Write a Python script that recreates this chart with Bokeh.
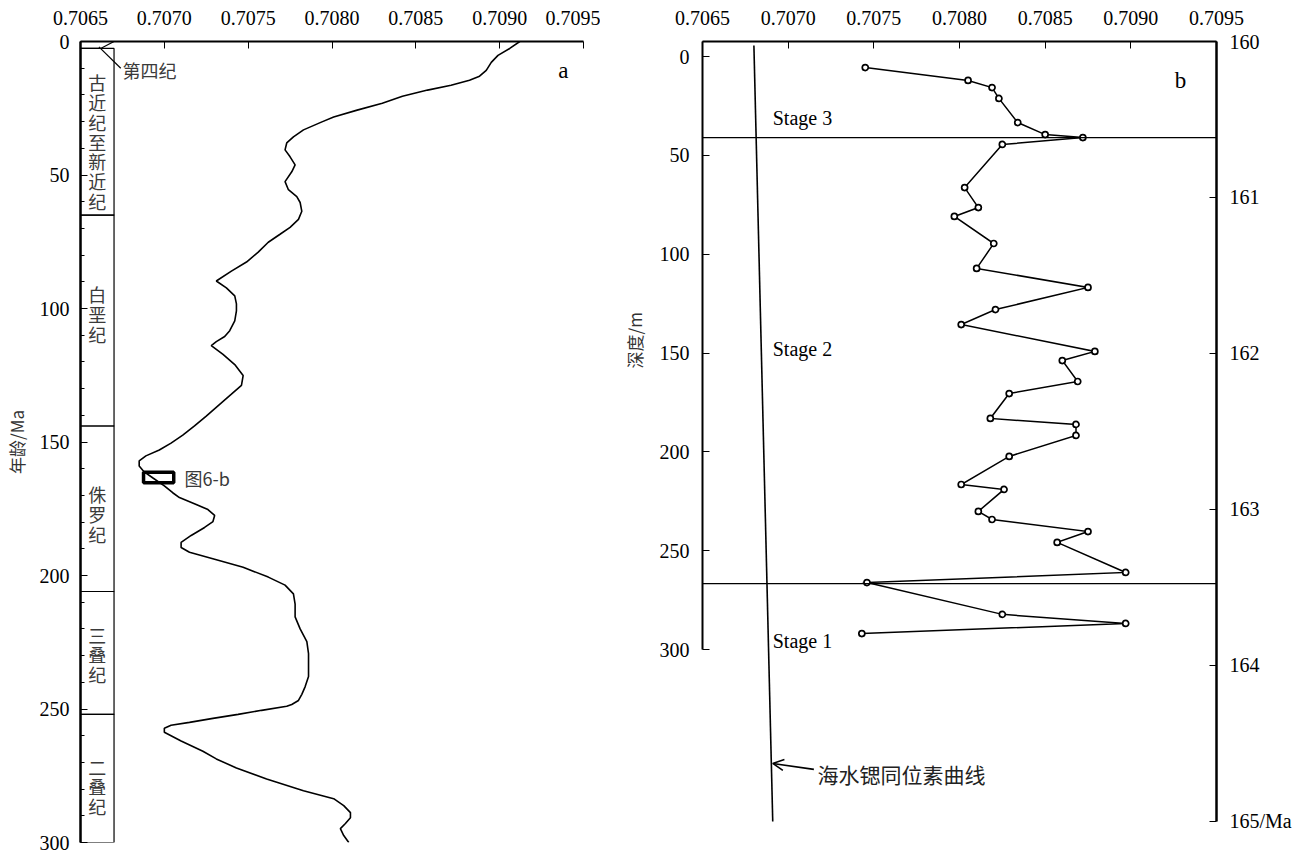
import math
from bokeh.plotting import figure
from bokeh.models import (Range1d, LinearAxis, FixedTicker, PrintfTickFormatter, Span,
                          Label, Arrow, OpenHead, Title)
from bokeh.layouts import row
from bokeh.embed import file_html
from bokeh.resources import INLINE
from bokeh.core.properties import value

SERIF = "Liberation Serif"
CJK = "Noto Sans CJK SC"

# ---------------- panel a : seawater 87Sr/86Sr curve vs age ----------------
age_a = [0, 2.6, 5.2, 7.8, 10.8, 13.0, 14.5, 16.4, 18.2, 20.5, 23.1, 25.7, 28.3, 30.1,
         33.1, 35.7, 38.0, 40.6, 43.2, 46.2, 48.8, 52.5, 55.5, 58.1, 60.3, 63.6, 66.6,
         69.6, 72.2, 75.2, 78.9, 82.6, 86.0, 89.7, 92.3, 95.3, 98.3, 100.9, 104.6, 108.3,
         110.5, 112.4, 113.9, 117.2, 121.0, 125.1, 128.8, 132.1, 135.9, 140.3, 144.0,
         147.4, 150.4, 153.0, 155.2, 157.1, 159.0, 161.2, 163.4, 166.4, 169.0, 170.8,
         173.4, 175.3, 177.5, 179.8, 182.0, 185.0, 187.6, 189.5, 191.3, 193.9, 196.9,
         200.6, 203.6, 206.9, 210.7, 215.5, 220.0, 224.8, 229.3, 234.1, 237.8, 241.6,
         244.5, 246.8, 248.3, 249.0, 250.5, 252.0, 253.5, 255.0, 256.1, 257.2, 258.7,
         262.0, 265.8, 268.7, 272.1, 276.2, 280.6, 283.6, 286.2, 288.8, 290.7, 292.9,
         294.8, 297.4, 300.0]
sr_a = [0.70912, 0.70906, 0.70899, 0.70895, 0.70892, 0.70888, 0.70882, 0.70871, 0.70857,
        0.70842, 0.70830, 0.70815, 0.70801, 0.70794, 0.70783, 0.70777, 0.70773, 0.70772,
        0.70775, 0.70778, 0.70776, 0.70772, 0.70774, 0.70779, 0.70781, 0.70782, 0.70780,
        0.70775, 0.70769, 0.70762, 0.70756, 0.70749, 0.70740, 0.70731, 0.70737, 0.70742,
        0.70743, 0.70743, 0.70742, 0.70739, 0.70736, 0.70731, 0.70728, 0.70735, 0.70742,
        0.70747, 0.70746, 0.70740, 0.70733, 0.70725, 0.70718, 0.70711, 0.70704, 0.70697,
        0.70689, 0.70685, 0.70685, 0.70688, 0.70693, 0.70700, 0.70705, 0.70709, 0.70719,
        0.70726, 0.70730, 0.70729, 0.70724, 0.70716, 0.70710, 0.70710, 0.70715, 0.70730,
        0.70747, 0.70762, 0.70772, 0.70777, 0.70778, 0.70778, 0.70781, 0.70785, 0.70786,
        0.70786, 0.70786, 0.70784, 0.70782, 0.70780, 0.70776, 0.70773, 0.70758, 0.70744,
        0.70729, 0.70715, 0.70704, 0.70700, 0.70700, 0.70710, 0.70723, 0.70731, 0.70743,
        0.70761, 0.70783, 0.70801, 0.70807, 0.70811, 0.70811, 0.70808, 0.70805, 0.70807,
        0.70810]

era_names = ["古近纪至新近纪", "白垩纪", "侏罗纪", "三叠纪", "二叠纪"]
era_top = [2.6, 65, 144, 206, 252]
era_base = [65, 144, 206, 252, 300]
era_label_age = [37.5, 102.0, 177.0, 229.5, 279.0]
column_left, column_right = 0.7065, 0.7067

box_sr = [0.706876, 0.707056]     # window of panel b (图6-b)
box_age = [161.3, 165.3]

sr_ticks = [0.7065, 0.7070, 0.7075, 0.7080, 0.7085, 0.7090, 0.7095]
age_ticks = [0, 50, 100, 150, 200, 250, 300]

# ---------------- panel b : measured samples vs depth ----------------
depth_b = [5.6, 12.1, 15.7, 21.2, 33.4, 39.5, 41.0, 44.5, 66.3, 76.4, 80.9, 94.6, 107.2,
           116.8, 128.0, 135.6, 149.2, 153.8, 164.4, 170.5, 183.1, 186.1, 191.7, 202.3,
           216.5, 219.0, 230.1, 234.2, 240.3, 245.8, 261.0, 266.1, 282.2, 286.8, 291.9]
sr_b = [0.70745, 0.70805, 0.70819, 0.70823, 0.70834, 0.70850, 0.70872, 0.70825, 0.70803,
        0.70811, 0.70797, 0.70820, 0.70810, 0.70875, 0.70821, 0.70801, 0.70879, 0.70860,
        0.70869, 0.70829, 0.70818, 0.70868, 0.70868, 0.70829, 0.70801, 0.70826, 0.70811,
        0.70819, 0.70875, 0.70857, 0.70897, 0.70746, 0.70825, 0.70897, 0.70743]
seawater_sr = [0.70680, 0.70691]
seawater_depth = [-5.6, 387.0]
stage_bounds = [41.0, 266.6]
stage_names = ["Stage 3", "Stage 2", "Stage 1"]
stage_label_depth = [30.9, 148.2, 295.9]
depth_ticks = [0, 50, 100, 150, 200, 250, 300]
age_b_ticks = [160, 161, 162, 163, 164, 165]

DEPTH_TOP, DEPTH_BOTTOM = -7.59, 397.6
AGE_TOP, AGE_BOTTOM = 160.0, 165.135
SR_MIN, SR_MAX = 0.70649999, 0.70950001


def style_axis(ax, size="20px"):
    ax.major_label_text_font = SERIF
    ax.major_label_text_font_style = "normal"
    ax.major_label_text_font_size = size
    ax.major_label_text_color = "black"
    ax.axis_line_color = "black"
    ax.major_tick_line_color = "black"
    ax.minor_tick_line_color = "black"
    ax.major_tick_out = 0
    ax.major_tick_in = 7
    ax.minor_tick_out = 0
    ax.minor_tick_in = 0


# ---------- figure a ----------
pa = figure(width=600, height=854, x_range=Range1d(SR_MIN, SR_MAX),
            y_range=Range1d(300, 0), x_axis_location="above", y_axis_location="left",
            toolbar_location=None, output_backend="svg",
            min_border_left=75, min_border_right=17, min_border_top=41, min_border_bottom=12)
pa.outline_line_color = None
pa.xgrid.visible = False
pa.ygrid.visible = False

xa = pa.xaxis[0]
xa.ticker = FixedTicker(ticks=sr_ticks)
xa.formatter = PrintfTickFormatter(format="%.4f")
style_axis(xa)
xa.axis_line_width = 2
xa.major_label_standoff = 17

ya = pa.yaxis[0]
ya.ticker = FixedTicker(ticks=age_ticks, minor_ticks=list(range(0, 301, 10)))
style_axis(ya)
ya.minor_tick_in = 4
ya.axis_line_width = 2.5
ya.major_label_standoff = 11
ya.axis_label = "年龄/Ma"
ya.axis_label_text_font = CJK
ya.axis_label_text_font_size = "17px"
ya.axis_label_text_font_style = "normal"
ya.axis_label_text_color = "#333333"
ya.axis_label_standoff = 8

# stratigraphic column
pa.quad(left=column_left, right=column_right, top=era_top, bottom=era_base,
        fill_color=None, line_color="black", line_width=1.2)
pa.line([column_left, 0.70662, column_right], [era_top[0], era_top[0], 0],
        line_color="black", line_width=1.2)
pa.line([0.70661, 0.70674], [2.0, 10.0], line_color="black", line_width=1.2)
pa.text(x=[(column_left + column_right) / 2] * len(era_names), y=era_label_age,
        text=["\n".join(n) for n in era_names], text_font=value(CJK),
        text_font_size="18px", text_color="#3a3a3a", text_align="center",
        text_baseline="middle", text_line_height=0.76)

# seawater curve
pa.line(sr_a, age_a, line_color="black", line_width=1.6)
pa.quad(left=box_sr[0], right=box_sr[1], top=box_age[0], bottom=box_age[1],
        fill_color=None, line_color="black", line_width=3.5)

pa.add_layout(Label(x=0.70675, y=10.8, text="第四纪", text_font=CJK, text_font_size="18px",
                    text_color="#3a3a3a", text_baseline="middle", text_align="left"))
pa.add_layout(Label(x=0.70712, y=163.4, text="图6-b", text_font=CJK, text_font_size="18px",
                    text_color="#3a3a3a", text_baseline="middle", text_align="left"))
pa.add_layout(Label(x=0.70938, y=10.8, text="a", text_font=SERIF, text_font_size="23px",
                    text_color="black", text_baseline="middle", text_align="center"))

# ---------- figure b ----------
pb = figure(width=700, height=854, x_range=Range1d(SR_MIN, SR_MAX),
            y_range=Range1d(DEPTH_BOTTOM, DEPTH_TOP), x_axis_location="above",
            y_axis_location="left", toolbar_location=None, output_backend="svg",
            min_border_left=102, min_border_right=84, min_border_top=41, min_border_bottom=12)
pb.extra_y_ranges = {"age": Range1d(AGE_BOTTOM, AGE_TOP)}
pb.outline_line_color = None
pb.xgrid.visible = False
pb.ygrid.visible = False

xb = pb.xaxis[0]
xb.ticker = FixedTicker(ticks=sr_ticks)
xb.formatter = PrintfTickFormatter(format="%.4f")
style_axis(xb)
xb.axis_line_width = 2
xb.major_label_standoff = 17

yb = pb.yaxis[0]
yb.ticker = FixedTicker(ticks=depth_ticks)
yb.bounds = (DEPTH_TOP, 300)
style_axis(yb)
yb.axis_line_width = 2
yb.major_label_standoff = 13

pb.add_layout(Title(text="深度/m", align="left", offset=474, standoff=20,
                    text_font=CJK, text_font_size="17px", text_font_style="normal",
                    text_color="#333333"), "left")

rb = LinearAxis(y_range_name="age", ticker=FixedTicker(ticks=age_b_ticks),
                bounds=(AGE_TOP, 165), major_label_overrides={165: "165/Ma"})
style_axis(rb)
rb.axis_line_width = 2.5
rb.major_label_standoff = 13
pb.add_layout(rb, "right")

for d in stage_bounds:
    pb.add_layout(Span(location=d, dimension="width", line_color="black", line_width=1.2))

pb.line(seawater_sr, seawater_depth, line_color="black", line_width=1.6)
pb.line(sr_b, depth_b, line_color="black", line_width=1.5, line_join="miter")
pb.scatter(sr_b, depth_b, marker="circle", size=6, fill_color="white",
           line_color="black", line_width=1.7)

pb.text(x=[0.70691] * 3, y=stage_label_depth, text=stage_names, text_font=value(SERIF),
        text_font_size="20px", text_color="black", text_align="left", text_baseline="middle")
pb.add_layout(Label(x=0.70929, y=12.1, text="b", text_font=SERIF, text_font_size="23px",
                    text_color="black", text_baseline="middle", text_align="center"))
pb.add_layout(Arrow(end=OpenHead(size=11, line_width=1.6, line_color="black"),
                    x_start=0.70715, y_start=360.6, x_end=0.70691, y_end=357.6,
                    line_color="black", line_width=1.6))
pb.add_layout(Label(x=0.707171, y=362.7, text="海水锶同位素曲线", text_font=CJK,
                    text_font_size="21px", text_color="#222222", text_baseline="middle",
                    text_align="left"))

layout = row(pa, pb)
open("out.html", "w").write(file_html(layout, INLINE))
